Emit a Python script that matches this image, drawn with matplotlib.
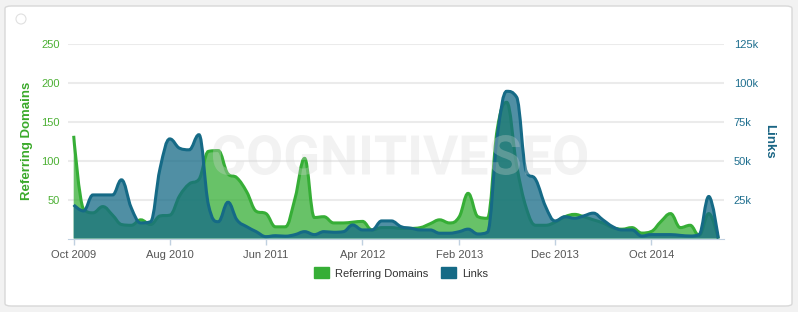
import matplotlib.pyplot as plt
import matplotlib.patches as mpatches
import matplotlib.transforms as mtransforms
from matplotlib.path import Path
from matplotlib.textpath import TextPath
from matplotlib.font_manager import FontProperties
import matplotlib.dates as mdates
import pandas as pd

plt.rcParams['font.family'] = ['Liberation Sans', 'DejaVu Sans']

# monthly points, Oct 2009 .. May 2015
dates = pd.date_range('2009-10-01', periods=68, freq='MS')

referring_domains = [132, 38, 33, 41, 30, 18, 17, 24, 18, 29,
                     30, 55, 70, 76, 112, 113, 83, 78, 60, 35,
                     32, 15, 15, 52, 103, 27, 28, 20, 20, 21,
                     22, 11, 14, 14, 13, 13, 14, 19, 24, 20,
                     28, 58, 28, 26, 140, 175, 95, 39, 17, 17,
                     21, 28, 31, 28, 24, 20, 14, 12, 14, 7,
                     9, 22, 32, 14, 17, 4, 32, 0]
links = [21600, 17700, 28000, 28000, 28000, 37700, 19700, 10000, 10800, 45000,
         64000, 58000, 57000, 66700, 21600, 10800, 23300, 12000, 7600, 4400,
         1200, 1800, 1500, 2500, 4400, 2500, 4400, 4000, 4400, 8700,
         5500, 5500, 11300, 11300, 7600, 6600, 5500, 5500, 3400, 3400,
         4400, 6000, 2900, 4000, 65600, 94600, 91000, 43000, 37700, 20500,
         11300, 14000, 13000, 14500, 16300, 12000, 7600, 5500, 5500, 1600,
         2500, 2500, 2500, 2000, 1600, 2500, 27000, 0]

green = '#36ae36'
blue = '#156a86'


def spline_controls(x, y, smoothing=1.5):
    # highcharts style spline control points
    n = len(x)
    left = [None] * n
    right = [None] * n
    d = smoothing + 1
    for i in range(1, n - 1):
        lx, ly = x[i - 1], y[i - 1]
        nx, ny = x[i + 1], y[i + 1]
        px, py = x[i], y[i]
        lcx = (smoothing * px + lx) / d
        lcy = (smoothing * py + ly) / d
        rcx = (smoothing * px + nx) / d
        rcy = (smoothing * py + ny) / d
        if rcx != lcx:
            corr = (rcy - lcy) * (rcx - px) / (rcx - lcx) + py - rcy
            lcy += corr
            rcy += corr
        if lcy > ly and lcy > py:
            lcy = max(ly, py)
            rcy = 2 * py - lcy
        elif lcy < ly and lcy < py:
            lcy = min(ly, py)
            rcy = 2 * py - lcy
        if rcy > ny and rcy > py:
            rcy = max(ny, py)
            lcy = 2 * py - rcy
        elif rcy < ny and rcy < py:
            rcy = min(ny, py)
            lcy = 2 * py - rcy
        left[i] = (lcx, lcy)
        right[i] = (rcx, rcy)
    return left, right


def spline_path(x, y, closed=False):
    left, right = spline_controls(x, y)
    verts = []
    codes = []
    if closed:
        verts += [(x[0], 0), (x[0], y[0])]
        codes += [Path.MOVETO, Path.LINETO]
    else:
        verts.append((x[0], y[0]))
        codes.append(Path.MOVETO)
    for i in range(1, len(x)):
        c1 = right[i - 1] or (x[i - 1], y[i - 1])
        c2 = left[i] or (x[i], y[i])
        verts += [c1, c2, (x[i], y[i])]
        codes += [Path.CURVE4] * 3
    if closed:
        verts += [(x[-1], 0), (x[0], 0)]
        codes += [Path.LINETO, Path.CLOSEPOLY]
    return Path(verts, codes)


fig = plt.figure(figsize=(7.98, 3.12), dpi=100)
fig.patch.set_facecolor('#f2f2f2')
panel = mpatches.FancyBboxPatch((5 / 798, 6 / 312), 787 / 798, 300 / 312,
                                boxstyle='round,pad=0,rounding_size=0.008',
                                transform=fig.transFigure, facecolor='white',
                                edgecolor='#d8d8d8', linewidth=1, zorder=-2)
fig.patches.append(panel)
fig.patches.append(mpatches.Ellipse((21 / 798, 1 - 19 / 312), 10 / 798, 10 / 312,
                                    transform=fig.transFigure, facecolor='white',
                                    edgecolor='#e0e0e0', linewidth=0.8, zorder=-1))

ax = fig.add_axes([68 / 798, 1 - 238.5 / 312, 656 / 798, 194.5 / 312])
ax2 = ax.twinx()
ax.patch.set_alpha(0)

x = mdates.date2num(dates)
ax.add_patch(mpatches.PathPatch(spline_path(x, referring_domains, True),
                                facecolor=green, alpha=0.75, edgecolor='none'))
ax.add_patch(mpatches.PathPatch(spline_path(x, referring_domains),
                                facecolor='none', edgecolor=green, linewidth=2.2))
ax2.add_patch(mpatches.PathPatch(spline_path(x, links, True),
                                 facecolor=blue, alpha=0.75, edgecolor='none'))
ax2.add_patch(mpatches.PathPatch(spline_path(x, links),
                                 facecolor='none', edgecolor=blue, linewidth=2.2))

ax.set_xlim(x[0] - 18, x[-1] + 18)
ax.set_ylim(0, 250)
ax2.set_ylim(0, 125000)
ax.set_yticks([50, 100, 150, 200, 250])
ax2.set_yticks([25000, 50000, 75000, 100000, 125000],
               ['25k', '50k', '75k', '100k', '125k'])
ax.set_xticks(x[::10], [d.strftime('%b %Y') for d in dates[::10]])

ax.grid(axis='y', color='#ebebeb', linewidth=1.5)
ax.set_axisbelow(True)
for a in (ax, ax2):
    for s in ('top', 'left', 'right'):
        a.spines[s].set_visible(False)
    a.spines['bottom'].set_color('#c0d0e0')
ax2.spines['bottom'].set_visible(False)

ax.tick_params(axis='x', colors='#c0d0e0', labelcolor='#555555', labelsize=8,
               length=4, width=1, pad=4)
ax.tick_params(axis='y', length=0, labelcolor='#4cb034', labelsize=8, pad=6)
ax2.tick_params(axis='y', length=0, labelcolor='#1f6f8f', labelsize=8, pad=7)

ax.set_ylabel('Referring Domains', color='#3aaa2a', fontsize=9.5,
              fontweight='bold', labelpad=6)
ax2.set_ylabel('Links', color='#1a6584', fontsize=9.5, fontweight='bold',
               rotation=270, labelpad=12)

# watermark on top of the areas, semi transparent, condensed to fit
wm = TextPath((0, 0), 'COGNITIVESEO', size=50,
              prop=FontProperties(family='Roboto', weight='bold'))
bb = wm.get_extents()
wm_t = (mtransforms.Affine2D().translate(-bb.x0, -bb.y0)
        .scale(374 / bb.width, 40 / bb.height).translate(213, 312 - 175))
fig.patches.append(mpatches.PathPatch(wm, facecolor='#d4d4d4', edgecolor='none',
                                      alpha=0.3, zorder=5,
                                      transform=wm_t + mtransforms.IdentityTransform()))

handles = [mpatches.Patch(facecolor=green, edgecolor=green, label='Referring Domains'),
           mpatches.Patch(facecolor=blue, edgecolor=blue, label='Links')]
fig.legend(handles=handles, loc='center', bbox_to_anchor=(401 / 798, 1 - 273 / 312),
           ncol=2, frameon=False, fontsize=8, handlelength=1.35, handleheight=1.1,
           handletextpad=0.55, columnspacing=1.1, labelcolor='#333333')

plt.savefig('out.png', dpi=100, facecolor=fig.get_facecolor())
